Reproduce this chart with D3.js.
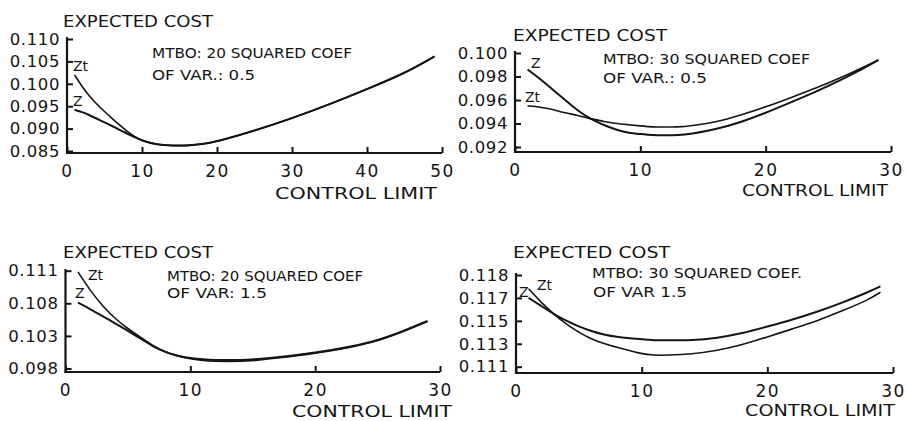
<!DOCTYPE html>
<html>
<head>
<meta charset="utf-8">
<script src="https://cdn.jsdelivr.net/npm/d3@7"></script>
<style>
  html, body { margin: 0; padding: 0; background: #fff; }
  svg { display: block; }
  text { font-family: "DejaVu Sans", sans-serif; fill: #141414; }
</style>
</head>
<body>
<svg id="chart" width="906" height="421"></svg>
<script>
// ---------- DATA ----------
// Panel 1: MTBO 20, squared coef of var 0.5
const p1X  = [1, 2, 3, 4, 5, 6, 7, 8, 9, 10, 12, 14, 16, 18, 20, 25, 30, 35, 40, 45, 49];
const p1Z  = [0.0942, 0.0937, 0.0930, 0.0922, 0.0914, 0.0906, 0.0897, 0.0889, 0.0881, 0.0873, 0.0864, 0.0862, 0.0862, 0.0865, 0.0871, 0.0895, 0.0923, 0.0954, 0.0988, 0.1023, 0.1061];
const p1Zt = [0.1020, 0.0994, 0.0972, 0.0954, 0.0938, 0.0923, 0.0908, 0.0894, 0.0882, 0.0873, 0.0864, 0.0862, 0.0862, 0.0865, 0.0871, 0.0895, 0.0923, 0.0954, 0.0988, 0.1023, 0.1061];
const p1XTicks = [0, 10, 20, 30, 40, 50];
const p1YTicks = [0.085, 0.090, 0.095, 0.100, 0.105, 0.110];
const p1YLabels = ["0.085", "0.090", "0.095", "0.100", "0.105", "0.110"];

// Panel 2: MTBO 30, squared coef of var 0.5
const p2X  = [1, 2, 3, 4, 5, 6, 7, 8, 9, 10, 11, 12, 13, 14, 16, 18, 20, 22, 24, 26, 28, 29];
const p2Z  = [0.0986, 0.0978, 0.0969, 0.0960, 0.0951, 0.0944, 0.0939, 0.0935, 0.0932, 0.0931, 0.0930, 0.0930, 0.0930, 0.0931, 0.0935, 0.0941, 0.0949, 0.0958, 0.0967, 0.0977, 0.0988, 0.0994];
const p2Zt = [0.0955, 0.0954, 0.0952, 0.0949, 0.0947, 0.0944, 0.0942, 0.0940, 0.0939, 0.0938, 0.0937, 0.0937, 0.0937, 0.0938, 0.0941, 0.0947, 0.0954, 0.0962, 0.0970, 0.0979, 0.0989, 0.0994];
const p2XTicks = [0, 10, 20, 30];
const p2YTicks = [0.092, 0.094, 0.096, 0.098, 0.100];
const p2YLabels = ["0.092", "0.094", "0.096", "0.098", "0.100"];

// Panel 3: MTBO 20, squared coef of var 1.5
const p3X  = [1, 2, 3, 4, 5, 6, 7, 8, 9, 10, 11, 12, 13, 14, 15, 17, 20, 23, 25, 27, 29];
const p3Z  = [0.1081, 0.1071, 0.1060, 0.1049, 0.1038, 0.1026, 0.1014, 0.1005, 0.0999, 0.0996, 0.0994, 0.0993, 0.0993, 0.0993, 0.0994, 0.0997, 0.1004, 0.1014, 0.1023, 0.1037, 0.1053];
const p3Zt = [0.1128, 0.1099, 0.1075, 0.1056, 0.1041, 0.1028, 0.1015, 0.1005, 0.0999, 0.0995, 0.0992, 0.0991, 0.0991, 0.0991, 0.0992, 0.0996, 0.1003, 0.1013, 0.1022, 0.1036, 0.1052];
const p3XTicks = [0, 10, 20, 30];
const p3YTicks = [0.098, 0.103, 0.108, 0.113];
const p3YLabels = ["0.098", "0.103", "0.108", "0.111"];

// Panel 4: MTBO 30, squared coef of var 1.5
const p4X  = [1, 2, 3, 4, 5, 6, 7, 8, 10, 11, 12, 14, 16, 18, 20, 22, 24, 26, 28, 29];
const p4Z  = [0.1170, 0.1163, 0.1156, 0.1150, 0.1145, 0.1141, 0.1138, 0.1136, 0.1134, 0.1133, 0.1133, 0.1133, 0.1135, 0.1139, 0.1145, 0.1151, 0.1158, 0.1166, 0.1175, 0.1180];
const p4Zt = [0.1178, 0.1166, 0.1156, 0.1147, 0.1140, 0.1134, 0.1130, 0.1127, 0.1121, 0.1120, 0.1120, 0.1121, 0.1124, 0.1129, 0.1136, 0.1143, 0.1150, 0.1159, 0.1168, 0.1175];
const p4XTicks = [0, 10, 20, 30];
const p4YTicks = [0.111, 0.113, 0.115, 0.117, 0.119];
const p4YLabels = ["0.111", "0.113", "0.115", "0.117", "0.118"];

const yTitle = "EXPECTED COST";
const xTitle = "CONTROL  LIMIT";
const notes1 = ["MTBO: 20 SQUARED COEF", "MTBO: 30 SQUARED COEF", "MTBO: 20 SQUARED COEF", "MTBO: 30 SQUARED COEF."];
const notes2 = ["OF VAR.: 0.5", "OF VAR.: 0.5", "OF VAR: 1.5", "OF VAR 1.5"];
const seriesNames = ["Z", "Zt"];

// ---------- LAYOUT ----------
const panels = [
  { x: p1X, z: p1Z, zt: p1Zt, xt: p1XTicks, yt: p1YTicks, yl: p1YLabels, xMax: 50,
    x0: 67, x1: 442, yLo: 151, yHi: 39, axisTop: 37, axisY: 153,
    head: [63, 213, 21], n1: [152, 352, 53], n2: [152, 255, 75], cl: [275, 437, 193],
    labZ: [73, 101], labZt: [73, 66] },
  { x: p2X, z: p2Z, zt: p2Zt, xt: p2XTicks, yt: p2YTicks, yl: p2YLabels, xMax: 30,
    x0: 515, x1: 891, yLo: 147, yHi: 53, axisTop: 51, axisY: 152,
    head: [513, 667, 35], n1: [603, 810, 59], n2: [603, 707, 78], cl: [742, 888, 190],
    labZ: [531, 63], labZt: [525, 97] },
  { x: p3X, z: p3Z, zt: p3Zt, xt: p3XTicks, yt: p3YTicks, yl: p3YLabels, xMax: 30,
    x0: 65.5, x1: 440, yLo: 368.5, yHi: 270.7, axisTop: 269, axisY: 372,
    head: [63, 213, 252], n1: [167, 363, 276], n2: [167, 267, 293], cl: [292, 452, 411],
    labZt: [88, 275], labZ: [75, 293] },
  { x: p4X, z: p4Z, zt: p4Zt, xt: p4XTicks, yt: p4YTicks, yl: p4YLabels, xMax: 30,
    x0: 516, x1: 893, yLo: 366.7, yHi: 275, axisTop: 273, axisY: 373,
    head: [513, 670, 252], n1: [592, 802, 273], n2: [593, 687, 292], cl: [745, 895, 410.5],
    labZ: [519, 292], labZt: [537, 285] }
];

const svg = d3.select("#chart");
const ink = "#141414";

function fitText(g, str, spec, fs) {
  const [xs, xe, cy] = spec;
  g.append("text")
    .attr("x", xs)
    .attr("y", cy + 0.365 * fs)
    .attr("font-size", fs)
    .attr("textLength", xe - xs)
    .attr("lengthAdjust", "spacingAndGlyphs")
    .text(str);
}

panels.forEach((p, i) => {
  const g = svg.append("g");
  const x = d3.scaleLinear().domain([0, p.xMax]).range([p.x0, p.x1]);
  const y = d3.scaleLinear().domain([p.yt[0], p.yt[p.yt.length - 1]]).range([p.yLo, p.yHi]);

  // y axis
  const yAxis = d3.axisLeft(y)
    .tickValues(p.yt)
    .tickFormat((d, k) => p.yl[k])
    .tickSizeInner(-6).tickSizeOuter(0).tickPadding(7);
  const ya = g.append("g").attr("transform", `translate(${p.x0},0)`).call(yAxis);
  ya.select(".domain").remove();
  ya.selectAll(".tick line").attr("stroke", ink).attr("stroke-width", 2);
  ya.selectAll(".tick text").attr("font-size", 16.5).attr("letter-spacing", 0.6)
    .attr("font-family", "DejaVu Sans, sans-serif").attr("fill", ink);
  g.append("line").attr("x1", p.x0).attr("x2", p.x0)
    .attr("y1", p.axisTop).attr("y2", p.axisY + 1)
    .attr("stroke", ink).attr("stroke-width", 2.2);

  // x axis
  const xAxis = d3.axisBottom(x)
    .tickValues(p.xt)
    .tickFormat(d3.format("d"))
    .tickSizeInner(-6).tickSizeOuter(0).tickPadding(12);
  const xa = g.append("g").attr("transform", `translate(0,${p.axisY})`).call(xAxis);
  xa.select(".domain").remove();
  xa.selectAll(".tick line").attr("stroke", ink).attr("stroke-width", 2);
  xa.selectAll(".tick text").attr("font-size", 17).attr("letter-spacing", 1.5)
    .attr("font-family", "DejaVu Sans, sans-serif").attr("fill", ink);
  g.append("line").attr("x1", p.x0 - 1).attr("x2", p.x1)
    .attr("y1", p.axisY).attr("y2", p.axisY)
    .attr("stroke", ink).attr("stroke-width", 2.2);

  // curves
  const line = d3.line().x((d, k) => x(p.x[k])).y(d => y(d)).curve(d3.curveBasis);
  g.append("path").attr("d", line(p.z)).attr("fill", "none")
    .attr("stroke", ink).attr("stroke-width", 2);
  g.append("path").attr("d", line(p.zt)).attr("fill", "none")
    .attr("stroke", ink).attr("stroke-width", 1.6);

  // series labels
  g.append("text").attr("x", p.labZ[0]).attr("y", p.labZ[1] + 5).attr("font-size", 14).text(seriesNames[0]);
  g.append("text").attr("x", p.labZt[0]).attr("y", p.labZt[1] + 5).attr("font-size", 14).text(seriesNames[1]);

  // titles and notes
  fitText(g, yTitle, p.head, 16);
  fitText(g, notes1[i], p.n1, 13.5);
  fitText(g, notes2[i], p.n2, 13.5);
  fitText(g, xTitle, p.cl, 16);
});
</script>
</body>
</html>
